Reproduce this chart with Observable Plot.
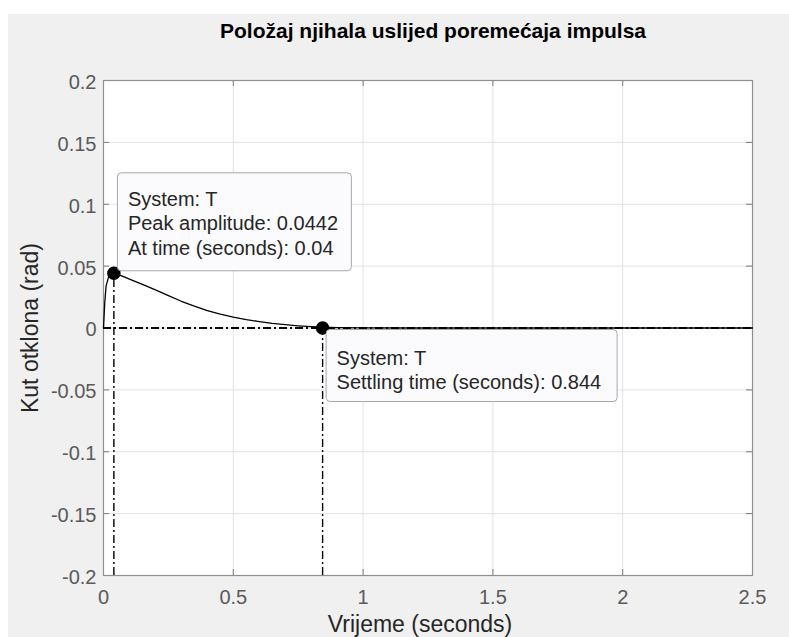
<!DOCTYPE html>
<html>
<head>
<meta charset="utf-8">
<script src="https://cdn.jsdelivr.net/npm/d3@7"></script>
<script src="https://cdn.jsdelivr.net/npm/@observablehq/plot@0.6"></script>
<style>
  html, body { margin: 0; padding: 0; background: #ffffff; }
  #chart { position: absolute; left: 8px; top: 14px; width: 781px; height: 623px; background: #f0f0f0; }
</style>
</head>
<body>
<div id="chart"></div>
<script>
// ---- data ----
const title = "Položaj njihala uslijed poremećaja impulsa";
const xLabel = "Vrijeme (seconds)";
const yLabel = "Kut otklona (rad)";
const systemName = "T";

const time  = [0, 0.005, 0.01, 0.02, 0.03, 0.04, 0.06, 0.08, 0.1, 0.15, 0.2, 0.25, 0.3, 0.35, 0.4, 0.45, 0.5, 0.55, 0.6, 0.65, 0.7, 0.75, 0.8, 0.85, 0.9, 1.0, 1.2, 1.5, 2.0, 2.5];
const angle = [0, 0.021, 0.034, 0.0415, 0.0438, 0.0442, 0.0430, 0.0413, 0.0395, 0.0352, 0.0308, 0.0262, 0.0216, 0.0176, 0.0141, 0.0112, 0.0088, 0.0068, 0.0052, 0.0038, 0.0027, 0.0018, 0.0011, 0.0006, 0.0003, 0.0001, 0, 0, 0, 0];

const peakTime = 0.04;
const peakAmp = 0.0442;
const settleTime = 0.844;
const finalValue = 0;

const xDomain = [0, 2.5];
const yDomain = [-0.2, 0.2];
const xTicks = [0, 0.5, 1, 1.5, 2, 2.5];
const yTicks = [-0.2, -0.15, -0.1, -0.05, 0, 0.05, 0.1, 0.15, 0.2];

// ---- derived tables ----
const series = time.map((t, i) => ({t, v: angle[i]}));
const peak = {x: peakTime, y: peakAmp,
  text: `System: ${systemName}\nPeak amplitude: ${peakAmp}\nAt time (seconds): ${peakTime}`};
const settle = {x: settleTime, y: finalValue,
  text: `System: ${systemName}\nSettling time (seconds): ${settleTime}`};

const W = 781, H = 623;
const mL = 95, mR = 37, mT = 66, mB = 62;
const fw = W - mL - mR, fh = H - mT - mB;
const tickLen = 6;
const dashDot = "8,3,2,3";
const font = "'Liberation Sans', Arial, Helvetica, sans-serif";

const chart = Plot.plot({
  width: W, height: H,
  marginLeft: mL, marginRight: mR, marginTop: mT, marginBottom: mB,
  style: {background: "transparent", fontFamily: font, fontSize: "20px"},
  x: {domain: xDomain},
  y: {domain: yDomain},
  marks: [
    Plot.frame({fill: "white", stroke: null}),
    // grid
    Plot.ruleX(xTicks, {stroke: "#e2e2e2", strokeWidth: 1}),
    Plot.ruleY(yTicks, {stroke: "#e2e2e2", strokeWidth: 1}),
    // inward ticks on all four sides
    Plot.ruleX(xTicks, {stroke: "#7a7a7a", insetTop: fh - tickLen}),
    Plot.ruleX(xTicks, {stroke: "#7a7a7a", insetBottom: fh - tickLen}),
    Plot.ruleY(yTicks, {stroke: "#7a7a7a", insetRight: fw - tickLen}),
    Plot.ruleY(yTicks, {stroke: "#7a7a7a", insetLeft: fw - tickLen}),
    Plot.frame({stroke: "#8f8f8f", strokeWidth: 1.2}),
    // axes labels (tick text)
    Plot.axisX({ticks: xTicks, tickSize: 0, tickPadding: 14, tickFormat: d => String(d), label: null, fill: "#5a5a5a", fontSize: 20}),
    Plot.axisY({ticks: yTicks, tickSize: 0, tickPadding: 7, tickFormat: d => String(d), label: null, fill: "#5a5a5a", fontSize: 20, dy: 2}),
    // steady-state & marker guide lines
    Plot.ruleY([finalValue], {stroke: "black", strokeWidth: 2, strokeDasharray: dashDot}),
    Plot.ruleX([peak], {x: "x", y1: () => yDomain[0], y2: "y", stroke: "black", strokeWidth: 1.4, strokeDasharray: dashDot}),
    Plot.ruleX([settle], {x: "x", y1: () => yDomain[0], y2: "y", stroke: "black", strokeWidth: 1.4, strokeDasharray: dashDot}),
    // response
    Plot.line(series, {x: "t", y: "v", stroke: "black", strokeWidth: 1.3}),
    Plot.dot([peak, settle], {x: "x", y: "y", r: 6, fill: "black", stroke: "black"}),
    // data tips
    Plot.rect([peak], {x1: "x", x2: "x", y1: "y", y2: "y", insetLeft: 4, insetRight: -238, insetTop: -100, insetBottom: 2, rx: 4, fill: "#fbfbfd", stroke: "#a8a8a8"}),
    Plot.text([peak], {x: "x", y: "y", text: "text", textAnchor: "start", lineAnchor: "middle", lineHeight: 1.22, dx: 14, dy: -51, fontSize: 20, fill: "#262626"}),
    Plot.rect([settle], {x1: "x", x2: "x", y1: "y", y2: "y", insetLeft: 4, insetRight: -295, insetTop: 2, insetBottom: -74, rx: 4, fill: "#fbfbfd", stroke: "#a8a8a8"}),
    Plot.text([settle], {x: "x", y: "y", text: "text", textAnchor: "start", lineAnchor: "middle", lineHeight: 1.22, dx: 14, dy: 41, fontSize: 20, fill: "#262626"}),
    // title & axis titles
    Plot.text([title], {text: d => d, frameAnchor: "top", dy: -49, dx: 5, fontSize: 21, fontWeight: "bold", fill: "black", lineAnchor: "middle"}),
    Plot.text([xLabel], {text: d => d, frameAnchor: "bottom", dy: 49, dx: -8, fontSize: 23, fill: "#262626", textAnchor: "middle", lineAnchor: "middle"}),
    Plot.text([yLabel], {text: d => d, frameAnchor: "left", dx: -73, rotate: -90, fontSize: 23, fill: "#262626", textAnchor: "middle", lineAnchor: "middle"})
  ]
});
document.getElementById("chart").appendChild(chart);
</script>
</body>
</html>
